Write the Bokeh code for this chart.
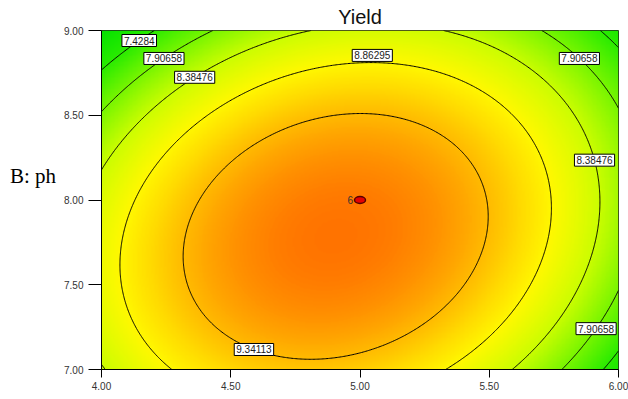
import numpy as np
from bokeh.plotting import figure
from bokeh.models import LinearColorMapper, FixedTicker, PrintfTickFormatter, Label
from bokeh.embed import file_html
from bokeh.resources import INLINE

# ---------------- data ----------------
title_text = "Yield"
y_label = "B: ph"
x_ticks = [4.00, 4.50, 5.00, 5.50, 6.00]
y_ticks = [7.00, 7.50, 8.00, 8.50, 9.00]
x_lim = [4.0, 6.0]          # A
y_lim = [7.0, 9.0]          # B: ph
x_center, y_center = 5.0, 8.0

# quadratic response-surface model in coded units A=(x-5), B=(y-8)
coef_const = 9.771
coef_A = -0.185
coef_B = -0.366
coef_AB = 0.374
coef_A2 = -1.41
coef_B2 = -0.934

contour_levels = [7.4284, 7.90658, 8.38476, 8.86295, 9.34113]
# contour labels: level, y position of label, branch (-1 left / +1 right)
label_levels = [7.4284, 7.90658, 8.38476, 8.86295, 7.90658, 8.38476, 7.90658, 9.34113]
label_y = [8.941, 8.835, 8.724, 8.853, 8.835, 8.235, 7.241, 7.118]
label_side = [-1, -1, -1, 1, 1, 1, 1, -1]
label_text = ["7.4284", "7.90658", "8.38476", "8.86295", "7.90658", "8.38476", "7.90658", "9.34113"]

design_points_x = [5.0]
design_points_y = [8.0]
design_points_reps = ["6"]

# colour ramp stops (value -> rgb)
stop_values = [6.8, 7.4, 7.9, 8.4, 8.85, 9.1, 9.35, 9.8, 10.4]
stop_r = [0, 40, 120, 205, 255, 255, 255, 255, 255]
stop_g = [225, 235, 245, 253, 248, 220, 185, 118, 40]
stop_b = [0, 0, 0, 0, 0, 0, 0, 0, 0]


def model(xv, yv):
    A = xv - x_center
    B = yv - y_center
    return (coef_const + coef_A * A + coef_B * B + coef_AB * A * B
            + coef_A2 * A * A + coef_B2 * B * B)


def x_on_level(level, yv, side):
    B = yv - y_center
    a = coef_A2
    b = coef_A + coef_AB * B
    c = coef_const + coef_B * B + coef_B2 * B * B - level
    disc = np.sqrt(max(b * b - 4 * a * c, 0.0))
    r1 = (-b + disc) / (2 * a)
    r2 = (-b - disc) / (2 * a)
    lo, hi = min(r1, r2), max(r1, r2)
    return x_center + (lo if side < 0 else hi)


# ---------------- grid ----------------
nx, ny = 400, 400
xs = np.linspace(x_lim[0], x_lim[1], nx)
ys = np.linspace(y_lim[0], y_lim[1], ny)
X, Y = np.meshgrid(xs, ys)
Z = model(X, Y)

low, high = 6.8, 10.4
pal_vals = np.linspace(low, high, 256)
r = np.interp(pal_vals, stop_values, stop_r)
g = np.interp(pal_vals, stop_values, stop_g)
b = np.interp(pal_vals, stop_values, stop_b)
palette = ["#%02x%02x%02x" % (int(round(rr)), int(round(gg)), int(round(bb))) for rr, gg, bb in zip(r, g, b)]
mapper = LinearColorMapper(palette=palette, low=low, high=high)

# ---------------- figure ----------------
p = figure(width=628, height=399, x_range=(x_lim[0], x_lim[1]), y_range=(y_lim[0], y_lim[1]),
           output_backend="svg", toolbar_location=None,
           min_border_left=101, min_border_right=10, min_border_top=29, min_border_bottom=30)
p.background_fill_color = "white"
p.border_fill_color = "white"
p.outline_line_color = "#222222"
p.outline_line_width = 1
p.xgrid.visible = False
p.ygrid.visible = False

p.title.text = title_text
p.title.align = "center"
p.title.text_font = "Liberation Sans"
p.title.text_font_size = "20px"
p.title.text_font_style = "normal"
p.title.text_color = "#111111"
p.title.standoff = 6

p.image(image=[Z], x=x_lim[0], y=y_lim[0], dw=x_lim[1] - x_lim[0], dh=y_lim[1] - y_lim[0],
        color_mapper=mapper)

p.contour(x=xs, y=ys, z=Z, levels=contour_levels, line_color="black", line_width=1)

for lv, ly, side, txt in zip(label_levels, label_y, label_side, label_text):
    lx = x_on_level(lv, ly, side)
    p.add_layout(Label(x=lx, y=ly, text=txt, text_align="center", text_baseline="middle",
                       text_font="Liberation Sans", text_font_size="10px", text_color="#222222",
                       background_fill_color="white", border_line_color="black", border_line_width=1,
                       padding=2))

p.ellipse(x=design_points_x, y=design_points_y, width=11, height=7, width_units="screen",
          height_units="screen", fill_color="#e60000", line_color="#550000", line_width=1.5)
for dx_, dy_, t in zip(design_points_x, design_points_y, design_points_reps):
    p.add_layout(Label(x=dx_, y=dy_, x_offset=-7, text=t, text_align="right", text_baseline="middle",
                       text_font="Liberation Sans", text_font_size="10px", text_color="#333333"))

for ax, ticks, tout in ((p.xaxis[0], x_ticks, 8), (p.yaxis[0], y_ticks, 13)):
    ax.ticker = FixedTicker(ticks=ticks)
    ax.formatter = PrintfTickFormatter(format="%.2f")
    ax.major_label_text_font = "Liberation Sans"
    ax.major_label_text_font_size = "10px"
    ax.major_label_text_color = "#333333"
    ax.major_tick_out = tout
    ax.major_tick_in = 0
    ax.minor_tick_line_color = None
    ax.axis_line_color = "black"
    ax.major_tick_line_color = "black"
    ax.major_tick_line_width = 1

p.xaxis.major_label_standoff = 4
p.yaxis.major_label_standoff = 5

# horizontal serif axis label, raised above centre by trailing blank lines
p.yaxis.axis_label = y_label + "\n\n"
p.yaxis.axis_label_orientation = "horizontal"
p.yaxis.axis_label_text_font = "Liberation Serif"
p.yaxis.axis_label_text_font_size = "21px"
p.yaxis.axis_label_text_font_style = "normal"
p.yaxis.axis_label_text_line_height = 1.0
p.yaxis.axis_label_text_color = "black"
p.yaxis.axis_label_standoff = 5

open("out.html", "w").write(file_html(p, INLINE))
